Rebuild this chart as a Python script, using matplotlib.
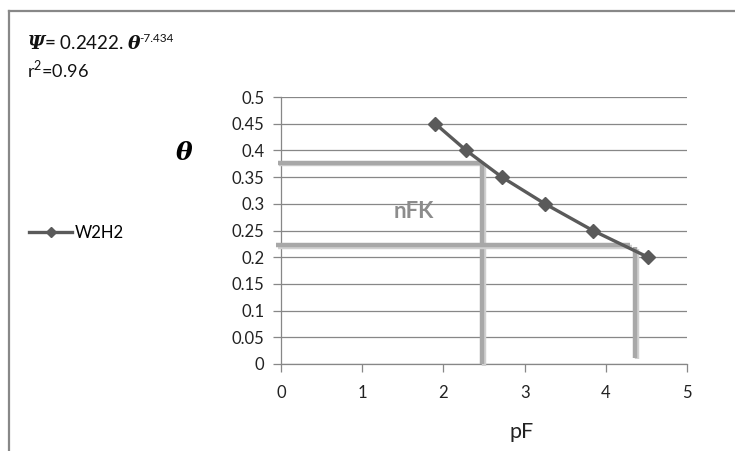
import matplotlib

matplotlib.use("Agg")
import matplotlib.pyplot as plt
import matplotlib.patheffects as pe
from matplotlib.lines import Line2D
from matplotlib.ticker import FuncFormatter

# measured retention curve (pF vs water content)
pf = [1.90, 2.28, 2.72, 3.25, 3.84, 4.52]
theta = [0.45, 0.40, 0.35, 0.30, 0.25, 0.20]
series_name = "W2H2"

# field capacity / wilting point guides
fc_pf, fc_theta = 2.48, 0.377
pwp_pf, pwp_theta = 4.36, 0.223
pwp_h_end = 4.30
pwp_v_end = 0.012

x_ticks = [0, 1, 2, 3, 4, 5]
y_ticks = [0, 0.05, 0.1, 0.15, 0.2, 0.25, 0.3, 0.35, 0.4, 0.45, 0.5]

plt.rcParams["font.family"] = ["Lato", "DejaVu Sans"]
plt.rcParams["mathtext.fontset"] = "custom"
plt.rcParams["mathtext.rm"] = "Lato"
plt.rcParams["mathtext.bf"] = "DejaVu Serif:italic:bold"

W, H = 735, 451
fig = plt.figure(figsize=(W / 100, H / 100), dpi=100)
ax = fig.add_axes([281 / W, 1 - 364 / H, (687 - 281) / W, (364 - 97) / H])

grey = "#878787"
guide = "#a8a8a8"
shadow = [pe.SimpleLineShadow(offset=(1.2, -1.2), shadow_color="#d0d0d0", alpha=1), pe.Normal()]

ax.plot([-0.04, fc_pf], [fc_theta, fc_theta], color=guide, lw=3.2, clip_on=False,
        solid_capstyle="butt", path_effects=shadow, zorder=3)
ax.plot([fc_pf, fc_pf], [fc_theta, 0], color=guide, lw=3.2, clip_on=False,
        solid_capstyle="butt", path_effects=shadow, zorder=3)
ax.plot([-0.06, pwp_h_end], [pwp_theta, pwp_theta], color=guide, lw=3.2, clip_on=False,
        solid_capstyle="butt", path_effects=shadow, zorder=3)
ax.plot([pwp_pf, pwp_pf], [pwp_theta - 0.004, pwp_v_end], color=guide, lw=3.2, clip_on=False,
        solid_capstyle="butt", path_effects=shadow, zorder=3)

ax.plot(pf, theta, color="#5a5a5a", lw=2.4, marker="D", ms=7.5, clip_on=False,
        label=series_name, zorder=4)

ax.set_xlim(0, 5)
ax.set_ylim(0, 0.5)
ax.set_xticks(x_ticks)
ax.set_yticks(y_ticks)
ax.yaxis.set_major_formatter(FuncFormatter(lambda v, p: f"{v:g}"))
ax.grid(axis="y", color=grey, lw=0.9)
ax.set_axisbelow(True)
for side in ["top", "right"]:
    ax.spines[side].set_visible(False)
for side in ["left", "bottom"]:
    ax.spines[side].set_color(grey)
    ax.spines[side].set_linewidth(0.9)
ax.tick_params(axis="x", direction="out", length=6, width=0.9, color=grey, labelsize=12,
               labelcolor="#222222", pad=9)
ax.tick_params(axis="y", direction="out", length=6, width=0.9, color=grey, labelsize=12,
               labelcolor="#222222", pad=6)

ax.text(1.63, 0.286, "nFK", color="#8c8c8c", fontsize=16, fontweight="bold",
        ha="center", va="center")

fig.text(522 / W, 1 - 432 / H, "pF", fontsize=15.5, ha="center", va="center", color="#222222")
fig.text(184 / W, 1 - 152 / H, r"$\mathbf{\theta}$", fontsize=18, ha="center", va="center")
eq = fig.text(27 / W, 1 - 43 / H, r"$\mathbf{\Psi}$= 0.2422. $\mathbf{\theta}$",
              fontsize=13.5, ha="left", va="center", color="#111111")
ax.annotate("-7.434", xy=(1, 1), xycoords=eq, xytext=(-2, 1), textcoords="offset points",
            fontsize=8.5, ha="left", va="top", color="#111111", annotation_clip=False)
fig.text(27 / W, 1 - 69 / H, r"r$^{\mathrm{2}}$=0.96", fontsize=13, ha="left", va="center",
         color="#111111")

fig.legend(loc="center left", bbox_to_anchor=(29 / W, 1 - 233 / H), frameon=False,
           fontsize=12, handlelength=2.6, handletextpad=0.12, borderpad=0,
           borderaxespad=0, markerscale=0.65)

# page frame around the chart
fig.add_artist(Line2D([9 / W, 1], [1 - 11 / H, 1 - 11 / H], color="#888888", lw=1.6,
                      transform=fig.transFigure))
fig.add_artist(Line2D([9 / W, 9 / W], [0, 1 - 11 / H], color="#888888", lw=1.6,
                      transform=fig.transFigure))

fig.savefig("out.png", dpi=100)
